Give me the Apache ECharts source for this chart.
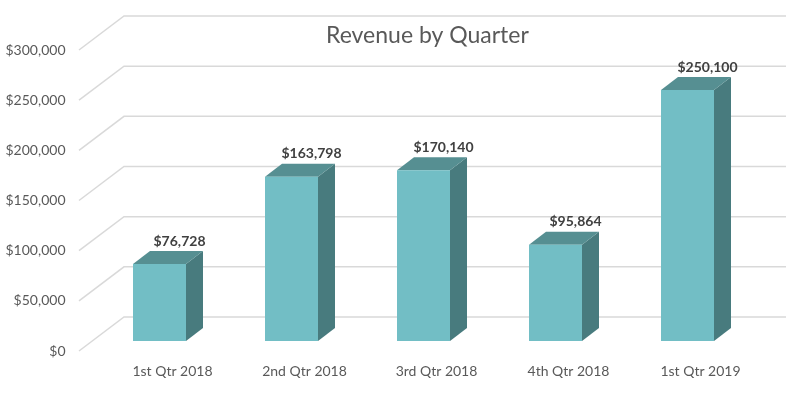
<!DOCTYPE html>
<html><head><meta charset="utf-8">
<script src="https://cdn.jsdelivr.net/npm/echarts@6/dist/echarts.min.js"></script>
<style>html,body{margin:0;padding:0;background:#fff}#c{width:800px;height:394px}</style>
</head><body><div id="c"></div>
<script>
const categories = ['1st Qtr 2018', '2nd Qtr 2018', '3rd Qtr 2018', '4th Qtr 2018', '1st Qtr 2019'];
const revenue = [76728, 163798, 170140, 95864, 250100];
const yTicks = [0, 50000, 100000, 150000, 200000, 250000, 300000];

const fmt = v => '$' + Number(v).toLocaleString('en-US');
const FONT = 'Lato, sans-serif';

const chart = echarts.init(document.getElementById('c'), null, {renderer: 'canvas'});
chart.setOption({
  backgroundColor: '#fff',
  animation: false,
  title: {
    text: 'Revenue by Quarter', left: 321, top: 19,
    textStyle: {fontFamily: FONT, fontSize: 23, fontWeight: 'normal', color: '#595959'}
  },
  grid: {left: 106.5, right: 33.5, top: 50, bottom: 43},
  xAxis: {
    type: 'category', data: categories,
    axisLine: {show: false}, axisTick: {show: false},
    axisLabel: {margin: 13, color: '#595959', fontFamily: FONT, fontSize: 14}
  },
  yAxis: {
    type: 'value', min: 0, max: 300000, interval: 50000,
    splitLine: {show: false}, axisLine: {show: false}, axisTick: {show: false},
    axisLabel: {margin: 41, color: '#595959', fontFamily: FONT, fontSize: 14, formatter: fmt}
  },
  series: [
    {
      type: 'custom', z: 1, silent: true,
      data: yTicks.map(v => [0, v]),
      renderItem: function (params, api) {
        const p = api.coord([0, api.value(1)]);
        const cs = params.coordSys;
        const y = p[1];
        const xf = cs.x - 27.5, xb = cs.x + 17.5, xe = cs.x + cs.width + 19.5;
        return {
          type: 'polyline',
          shape: {points: [[xf, y], [xb, y - 34], [xe, y - 34]]},
          style: {stroke: '#d9d9d9', lineWidth: 1.5, fill: null}
        };
      }
    },
    {
      type: 'custom', z: 2,
      data: revenue.map((v, i) => [i, v]),
      renderItem: function (params, api) {
        const i = api.value(0), v = api.value(1);
        const top = api.coord([i, v]);
        const base = api.coord([i, 0]);
        const c = top[0];
        const x0 = c - 39.5, x1 = x0 + 53;
        const yt = top[1] - 10, yb = base[1] - 10;
        const dx = 17, dy = 13;
        return {
          type: 'group',
          children: [
            {type: 'polygon', shape: {points: [[x1, yb], [x1 + dx, yb - dy], [x1 + dx, yt - dy], [x1, yt]]},
             style: {fill: '#487b7e'}},
            {type: 'polygon', shape: {points: [[x0, yt], [x1, yt], [x1 + dx, yt - dy], [x0 + dx, yt - dy]]},
             style: {fill: '#568f92'}},
            {type: 'rect', shape: {x: x0, y: yt, width: 53, height: yb - yt},
             style: {fill: '#72bec5'}},
            {type: 'text', x: c + 7, y: yt - dy - 10,
             style: {text: fmt(v), align: 'center', verticalAlign: 'middle',
                     font: 'bold 14px ' + FONT, fill: '#404040'}}
          ]
        };
      }
    }
  ]
});
</script></body></html>
